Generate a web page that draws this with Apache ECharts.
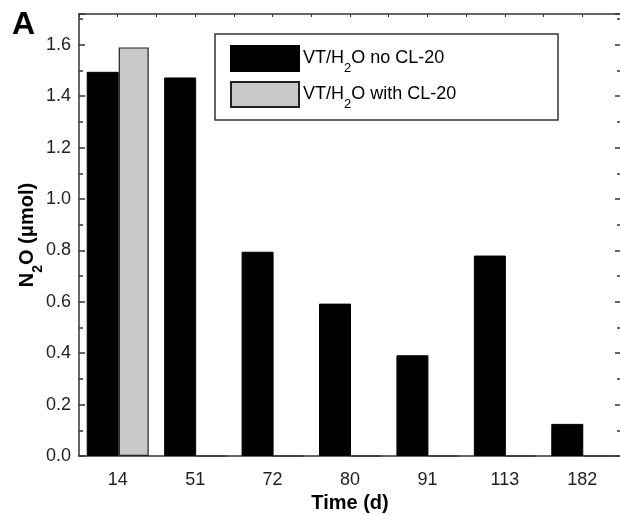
<!DOCTYPE html>
<html>
<head>
<meta charset="utf-8">
<script src="https://cdn.jsdelivr.net/npm/echarts@6/dist/echarts.min.js"></script>
<style>
  html, body { margin: 0; padding: 0; background: #fff; }
  #chart { width: 620px; height: 515px; }
</style>
</head>
<body>
<div id="chart"></div>
<script>
// data
var days = ['14', '51', '72', '80', '91', '113', '182'];
var noCL20 = [1.495, 1.473, 0.795, 0.593, 0.392, 0.78, 0.125];
var withCL20 = [1.59, 0, 0, 0, 0, 0, 0];
var yLabels = ['0.0', '0.2', '0.4', '0.6', '0.8', '1.0', '1.2', '1.4', '1.6'];

var font = 'Liberation Sans, Arial, sans-serif';
var axisColor = '#333';

var chart = echarts.init(document.getElementById('chart'));

var sub = { sub: { fontSize: 13, verticalAlign: 'bottom', padding: [0, 0, -7, 0], fontFamily: font, color: '#000' } };
var subBold = { sub: { fontSize: 14, fontWeight: 'bold', verticalAlign: 'bottom', padding: [0, 0, -8, 0], fontFamily: font, color: '#000' } };

var legendText = { fontSize: 18, fontFamily: font, color: '#000', rich: sub, padding: [0, 0, 0, -1] };

var option = {
    animation: false,
    backgroundColor: '#fff',
    grid: { left: 79, top: 14, width: 542, height: 442, outerBoundsMode: 'none', containLabel: false },
    legend: [
        {
            data: ['no'], left: 230, top: 45, padding: 0, orient: 'vertical', icon: 'rect',
            itemWidth: 68, itemHeight: 25,
            formatter: function () { return 'VT/H{sub|2}O no CL-20'; },
            textStyle: legendText
        },
        {
            data: ['with'], left: 230, top: 81, padding: 0, orient: 'vertical', icon: 'rect',
            itemWidth: 68, itemHeight: 25,
            formatter: function () { return 'VT/H{sub|2}O with CL-20'; },
            textStyle: legendText
        }
    ],
    graphic: [
        { type: 'rect', shape: { x: 215, y: 34, width: 343, height: 86 }, style: { fill: 'none', stroke: axisColor, lineWidth: 1.5 }, z: 10 },
        { type: 'text', left: 12, top: 9, style: { text: 'A', font: 'bold 32px ' + font, fill: '#000' } }
    ],
    xAxis: [
        {
            type: 'category', data: days, position: 'bottom',
            name: 'Time (d)', nameLocation: 'middle', nameGap: 37,
            nameTextStyle: { fontSize: 20, fontWeight: 'bold', fontFamily: font, color: '#000' },
            axisLine: { lineStyle: { color: axisColor, width: 1.5 } },
            axisTick: { alignWithLabel: true, inside: false, length: 7, lineStyle: { color: axisColor, width: 1.5 } },
            axisLabel: { fontSize: 18, fontFamily: font, color: '#222', margin: 15 },
            splitLine: { show: false }
        },
        {
            type: 'value', position: 'top', min: 0, max: 7, interval: 0.5,
            axisLine: { show: true, onZero: false, lineStyle: { color: axisColor, width: 1.5 } },
            axisTick: { show: true, inside: true, length: 3, lineStyle: { color: axisColor } },
            axisLabel: { show: false },
            splitLine: { show: false }
        }
    ],
    yAxis: [
        {
            type: 'value', min: 0, max: 1.72, interval: 0.2,
            name: 'N{sub|2}O (\u03bcmol)', nameLocation: 'middle', nameGap: 42, nameRotate: 90,
            nameMoveOverlap: false,
            nameTextStyle: { fontSize: 20, fontWeight: 'bold', fontFamily: font, color: '#000', rich: subBold },
            axisLine: { show: true, lineStyle: { color: axisColor, width: 1.5 } },
            axisTick: { show: true, inside: true, length: 6, lineStyle: { color: axisColor, width: 1.5 } },
            minorTick: { show: true, splitNumber: 2, length: 4, lineStyle: { color: axisColor, width: 1.5 } },
            axisLabel: {
                fontSize: 18, fontFamily: font, color: '#222', margin: 8, showMaxLabel: false,
                formatter: function (v) {
                    var i = Math.round(v / 0.2);
                    return Math.abs(v - i * 0.2) < 1e-6 ? yLabels[i] : '';
                }
            },
            splitLine: { show: false }
        },
        {
            type: 'value', min: 0, max: 1.72, interval: 0.2, position: 'right',
            axisLine: { show: true, lineStyle: { color: axisColor, width: 1.5 } },
            axisTick: { show: true, inside: true, length: 6, lineStyle: { color: axisColor, width: 1.5 } },
            minorTick: { show: true, splitNumber: 2, length: 4, lineStyle: { color: axisColor, width: 1.5 } },
            axisLabel: { show: false },
            splitLine: { show: false }
        }
    ],
    series: [
        {
            name: 'no', type: 'bar', data: noCL20, barWidth: 32, barGap: '0%',
            itemStyle: { color: '#000', borderColor: '#000', borderWidth: 1 }
        },
        {
            name: 'with', type: 'bar', data: withCL20, barWidth: 30, barGap: '0%',
            itemStyle: { color: '#c8c9cb', borderColor: '#222', borderWidth: 1.2 }
        }
    ]
};

chart.setOption(option);
</script>
</body>
</html>
